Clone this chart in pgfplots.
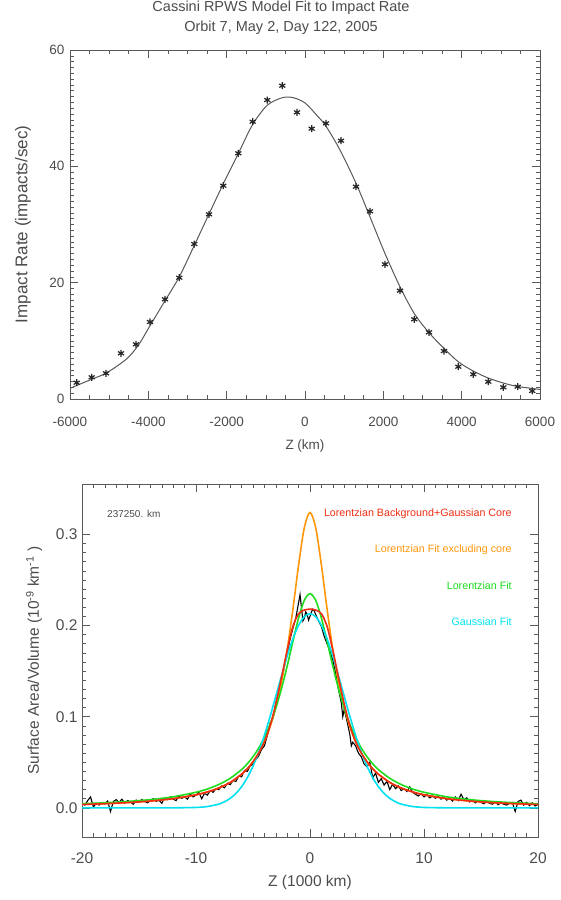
\documentclass[border=0pt]{standalone}
\usepackage{pgfplots}
\pgfplotsset{compat=1.18}
\usepackage{fontspec}
\setmainfont{Liberation Sans}
\definecolor{txt}{gray}{0.3}
\definecolor{frame}{gray}{0.35}
\definecolor{cred}{RGB}{240,45,20}
\definecolor{corange}{RGB}{255,150,10}
\definecolor{cgreen}{RGB}{30,220,30}
\definecolor{ccyan}{RGB}{0,225,240}
\begin{document}
\begin{tikzpicture}
\path[use as bounding box] (0,0) rectangle (561pt,-900pt);
% ---------------- top panel ----------------
\begin{axis}[
  at={(70pt,-399pt)}, anchor=south west, scale only axis,
  width=470pt, height=349pt,
  xmin=-6000, xmax=6000, ymin=0, ymax=60,
  xtick={-6000,-4000,-2000,0,2000,4000,6000},
  ytick={0,20,40,60},
  minor x tick num=3, minor y tick num=19,
  tick align=inside, major tick length=8pt, minor tick length=4pt,
  axis line style={frame, line width=0.8pt}, tick style={frame, line width=0.6pt},
  /pgf/number format/assume math mode=true,
  scaled x ticks=false,
  /pgf/number format/set thousands separator={},
  tick label style={font=\fontsize{13.5}{15}\selectfont, text=txt},
  xticklabel style={yshift=-15pt},
  yticklabel style={xshift=-2pt},
  title={Cassini RPWS Model Fit to Impact Rate\\Orbit 7, May 2, Day 122, 2005},
  title style={align=center, font=\fontsize{14.5}{20}\selectfont, text=txt,
    at={(axis description cs:0.5,1)}, anchor=center, yshift=26pt, xshift=-24pt},
  xlabel={Z (km)},
  ylabel={Impact Rate (impacts/sec)},
  label style={font=\fontsize{13.5}{15}\selectfont, text=txt},
  xlabel style={at={(axis description cs:0.5,0)}, anchor=center, yshift=-47pt},
  ylabel style={at={(axis description cs:0,0.5)}, anchor=center, font=\fontsize{17}{19}\selectfont, yshift=47pt},
]
\addplot[frame, line width=1pt, smooth, tension=0.5] coordinates {
(-6000,1.84) (-5446,3.4) (-5064,4.5) (-4553,6.9) (-4250,9.3) (-3957,12.6)
(-3574,16.9) (-3210,21.0) (-2827,26.4) (-2451,31.8) (-2086,37.0) (-1703,42.2)
(-1336,47.2) (-963,50.5) (-580,51.8) (-299,51.8) (0,50.9) (298,48.8) (536,46.9)
(894,42.8) (1302,37.1) (1660,31.3) (2043,25.0) (2425,19.3) (2790,14.7)
(3166,11.4) (3549,8.7) (3914,6.4) (4297,4.8) (4680,3.6) (5063,2.75) (5430,2.15) (6000,1.65)
};
\addplot[only marks, mark=asterisk, mark size=3.5pt, black!85, mark options={line width=1.2pt}] coordinates {
(-5829,2.80) (-5446,3.73) (-5081,4.42) (-4698,7.86) (-4315,9.40) (-3957,13.24)
(-3574,17.14) (-3210,20.85) (-2827,26.64) (-2451,31.75) (-2086,36.67) (-1703,42.24)
(-1336,47.67) (-963,51.4) (-580,53.86) (-205,49.28) (170,46.47) (536,47.39)
(919,44.4) (1302,36.5) (1660,32.27) (2043,23.16) (2425,18.62) (2790,13.70)
(3166,11.47) (3549,8.25) (3914,5.55) (4297,4.25) (4680,2.97) (5063,2.01) (5430,2.11) (5802,1.38)
};
\end{axis}
% ---------------- bottom panel ----------------
\begin{axis}[
  at={(82pt,-837pt)}, anchor=south west, scale only axis,
  width=456pt, height=353pt,
  xmin=-20, xmax=20, ymin=-0.032, ymax=0.3553,
  xtick={-20,-10,0,10,20},
  ytick={0,0.1,0.2,0.3},
  minor x tick num=9, minor y tick num=9,
  tick align=inside, major tick length=8pt, minor tick length=4pt,
  axis line style={frame, line width=0.8pt}, tick style={frame, line width=0.6pt},
  /pgf/number format/assume math mode=true,
  yticklabel style={/pgf/number format/fixed, /pgf/number format/fixed zerofill, /pgf/number format/precision=1, xshift=-1pt},
  tick label style={font=\fontsize{15.5}{17}\selectfont, text=txt},
  xticklabel style={yshift=-12pt},
  xlabel={Z (1000 km)},
  ylabel={Surface Area/Volume (10\textsuperscript{-9} km\textsuperscript{-1} )},
  label style={font=\fontsize{15.5}{17}\selectfont, text=txt},
  xlabel style={at={(axis description cs:0.5,0)}, anchor=center, yshift=-45pt},
  ylabel style={at={(axis description cs:0,0.5)}, anchor=center, yshift=48pt},
]
\node[anchor=west, font=\fontsize{10}{12}\selectfont, text=txt] at (axis cs:-18.1,0.3224) {237250. km};
\node[anchor=east, font=\fontsize{10.7}{12}\selectfont, text=cred] at (axis cs:18.0,0.3224) {Lorentzian Background+Gaussian Core};
\node[anchor=east, font=\fontsize{10.7}{12}\selectfont, text=corange] at (axis cs:18.0,0.2832) {Lorentzian Fit excluding core};
\node[anchor=east, font=\fontsize{10.7}{12}\selectfont, text=cgreen] at (axis cs:18.0,0.2437) {Lorentzian Fit};
\node[anchor=east, font=\fontsize{10.7}{12}\selectfont, text=ccyan] at (axis cs:18.0,0.2044) {Gaussian Fit};
% measured profile
\addplot[black, line width=1.1pt] coordinates {
(-20.00,0.0045) (-19.75,0.0030) (-19.50,0.0080) (-19.25,0.0120) (-19.00,0.0010) (-18.75,0.0050)
(-18.50,0.0030) (-18.25,0.0060) (-18.00,0.0040) (-17.75,0.0075) (-17.50,-0.0040) (-17.25,0.0070)
(-17.00,0.0090) (-16.75,0.0060) (-16.50,0.0095) (-16.25,0.0050) (-16.00,0.0080) (-15.75,0.0065)
(-15.50,0.0040) (-15.25,0.0085) (-15.00,0.0060) (-14.75,0.0090) (-14.50,0.0070) (-14.25,0.0055)
(-14.00,0.0080) (-13.75,0.0100) (-13.50,0.0070) (-13.25,0.0085) (-13.00,0.0050) (-12.75,0.0110)
(-12.50,0.0090) (-12.25,0.0120) (-12.00,0.0095) (-11.75,0.0080) (-11.50,0.0130) (-11.25,0.0105)
(-11.00,0.0120) (-10.75,0.0095) (-10.50,0.0150) (-10.25,0.0120) (-10.00,0.0140) (-9.75,0.0170)
(-9.50,0.0100) (-9.25,0.0160) (-9.00,0.0140) (-8.75,0.0190) (-8.50,0.0170) (-8.25,0.0210)
(-8.00,0.0200) (-7.75,0.0240) (-7.50,0.0220) (-7.25,0.0270) (-7.00,0.0255) (-6.75,0.0300)
(-6.50,0.0290) (-6.25,0.0350) (-6.00,0.0340) (-5.75,0.0410) (-5.50,0.0400) (-5.25,0.0460)
(-5.00,0.0480) (-4.75,0.0530) (-4.50,0.0570) (-4.25,0.0640) (-4.00,0.0680) (-3.75,0.0790)
(-3.50,0.0930) (-3.25,0.0980) (-3.00,0.1150) (-2.75,0.1270) (-2.50,0.1420) (-2.25,0.1550)
(-2.00,0.1700) (-1.75,0.1850) (-1.50,0.1970) (-1.25,0.2080) (-1.00,0.2250) (-0.875,0.2340)
(-0.75,0.2200) (-0.625,0.2050) (-0.50,0.2080) (-0.375,0.2150) (-0.25,0.2120) (-0.125,0.2060)
(0.00,0.2100) (0.125,0.2150) (0.25,0.2180) (0.375,0.2160) (0.50,0.2120) (0.75,0.2050)
(1.00,0.1990) (1.25,0.1880) (1.50,0.1800) (1.75,0.1720) (2.00,0.1620) (2.25,0.1480)
(2.50,0.1300) (2.75,0.1150) (2.875,0.1000) (3.00,0.1080) (3.25,0.0950) (3.50,0.0800)
(3.625,0.0680) (3.75,0.0720) (4.00,0.0680) (4.25,0.0600) (4.50,0.0560) (4.75,0.0480)
(5.00,0.0450) (5.25,0.0500) (5.50,0.0330) (5.75,0.0380) (6.00,0.0280) (6.25,0.0320)
(6.50,0.0250) (6.75,0.0290) (7.00,0.0200) (7.25,0.0260) (7.50,0.0210) (7.75,0.0240)
(8.00,0.0190) (8.25,0.0210) (8.50,0.0180) (8.75,0.0230) (9.00,0.0170) (9.25,0.0150)
(9.50,0.0130) (9.75,0.0155) (10.00,0.0120) (10.25,0.0145) (10.50,0.0110) (10.75,0.0130)
(11.00,0.0105) (11.25,0.0125) (11.50,0.0095) (11.75,0.0115) (12.00,0.0085) (12.25,0.0105)
(12.50,0.0075) (12.75,0.0120) (13.00,0.0080) (13.25,0.0150) (13.50,0.0090) (13.75,0.0110)
(14.00,0.0065) (14.25,0.0085) (14.50,0.0055) (14.75,0.0075) (15.00,0.0060) (15.25,0.0045)
(15.50,0.0070) (15.75,0.0050) (16.00,0.0040) (16.25,0.0065) (16.50,0.0035) (16.75,0.0055)
(17.00,0.0040) (17.25,0.0030) (17.50,0.0050) (17.75,0.0060) (18.00,-0.0040) (18.25,0.0070)
(18.50,0.0085) (18.75,0.0030) (19.00,0.0060) (19.25,0.0025) (19.50,0.0055) (19.75,0.0020)
(20.00,0.0040)
};
% Lorentzian fit excluding core
\addplot[corange, line width=1.6pt, smooth] coordinates {
(-20,0.0037) (-18,0.00456) (-16,0.00575) (-14,0.00747) (-12,0.0101) (-10,0.0143) (-9,0.0175)
(-8,0.0218) (-7,0.0279) (-6,0.0369) (-5.5,0.0429) (-5,0.0506) (-4.5,0.0602) (-4,0.0726)
(-3.5,0.0888) (-3,0.1099) (-2.5,0.1378) (-2,0.1737) (-1.5,0.2179) (-1,0.2664) (-0.5,0.3074)
(0,0.324) (0.5,0.3074) (1,0.2664) (1.5,0.2179) (2,0.1737) (2.5,0.1378) (3,0.1099)
(3.5,0.0888) (4,0.0726) (4.5,0.0602) (5,0.0506) (5.5,0.0429) (6,0.0369) (7,0.0279)
(8,0.0218) (9,0.0175) (10,0.0143) (12,0.0101) (14,0.00747) (16,0.00575) (18,0.00456) (20,0.0037)
};
% Lorentzian fit
\addplot[cgreen, line width=1.6pt, smooth] coordinates {
(-20,0.00452) (-18,0.00555) (-16,0.00698) (-14,0.00904) (-12,0.0121) (-10,0.0171) (-9,0.0207)
(-8,0.0256) (-7,0.0324) (-6,0.0420) (-5.5,0.0484) (-5,0.0561) (-4.5,0.0656) (-4,0.0773)
(-3.5,0.0917) (-3,0.1094) (-2.5,0.1308) (-2,0.1556) (-1.5,0.1826) (-1,0.2084) (-0.5,0.2277)
(0,0.235) (0.5,0.2277) (1,0.2084) (1.5,0.1826) (2,0.1556) (2.5,0.1308) (3,0.1094)
(3.5,0.0917) (4,0.0773) (4.5,0.0656) (5,0.0561) (5.5,0.0484) (6,0.0420) (7,0.0324)
(8,0.0256) (9,0.0207) (10,0.0171) (12,0.0121) (14,0.00904) (16,0.00698) (18,0.00555) (20,0.00452)
};
% Gaussian fit
\addplot[ccyan, line width=1.6pt, smooth] coordinates {
(-20,0) (-14,0) (-12,0.0) (-10,0.00045) (-9,0.00146) (-8,0.0041) (-7.5,0.0067) (-7,0.0104)
(-6.5,0.0158) (-6,0.0232) (-5.5,0.0331) (-5,0.0457) (-4.5,0.0612) (-4,0.0796) (-3.5,0.1002)
(-3,0.1224) (-2.5,0.1450) (-2,0.1665) (-1.5,0.1855) (-1,0.2003) (-0.5,0.2097) (0,0.213)
(0.5,0.2097) (1,0.2003) (1.5,0.1855) (2,0.1665) (2.5,0.1450) (3,0.1224) (3.5,0.1002)
(4,0.0796) (4.5,0.0612) (5,0.0457) (5.5,0.0331) (6,0.0232) (6.5,0.0158) (7,0.0104)
(7.5,0.0067) (8,0.0041) (9,0.00146) (10,0.00045) (12,0.0) (14,0) (20,0)
};
% Lorentzian background + Gaussian core
\addplot[cred, line width=1.6pt, smooth] coordinates {
(-20,0.0037) (-18,0.0046) (-16,0.0058) (-14,0.0075) (-12,0.0101) (-10,0.0143) (-9,0.0175)
(-8,0.0218) (-7,0.0279) (-6,0.0369) (-5.5,0.0429) (-5,0.0506) (-4.5,0.0602) (-4,0.0726)
(-3.5,0.0900) (-3,0.1140) (-2.5,0.1430) (-2,0.1730) (-1.5,0.1990) (-1,0.2130) (-0.5,0.2170)
(0,0.218) (0.5,0.2170) (1,0.2130) (1.5,0.1990) (2,0.1730) (2.5,0.1430) (3,0.1140)
(3.5,0.0900) (4,0.0726) (4.5,0.0602) (5,0.0506) (5.5,0.0429) (6,0.0369) (7,0.0279)
(8,0.0218) (9,0.0175) (10,0.0143) (12,0.0101) (14,0.0075) (16,0.0058) (18,0.0046) (20,0.0037)
};
\end{axis}
\end{tikzpicture}
\end{document}
